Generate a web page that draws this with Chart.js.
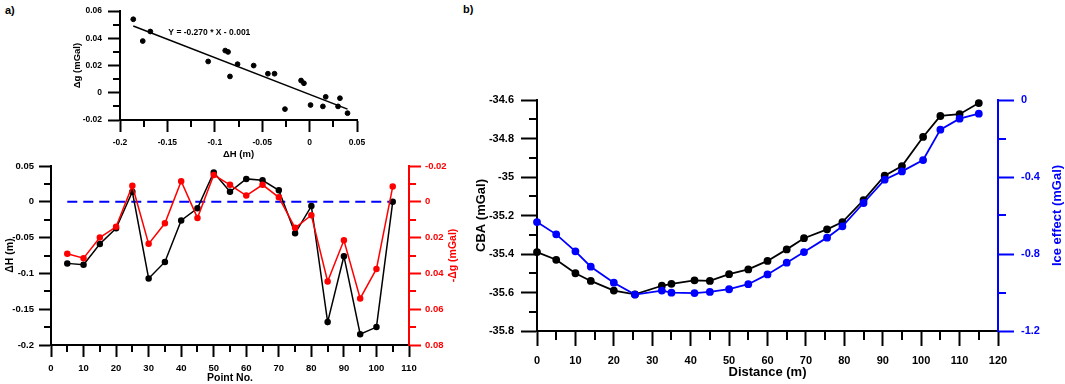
<!DOCTYPE html>
<html>
<head>
<meta charset="utf-8">
<script src="https://cdn.jsdelivr.net/npm/chart.js@4.4.1/dist/chart.umd.min.js"></script>
<style>
    body { margin: 0; background: #fff; width: 1065px; height: 384px; position: relative; overflow: hidden; font-family: 'Liberation Sans', Arial, sans-serif; }
    canvas { position: absolute; }
    .panel { position: absolute; font-weight: bold; font-size: 11px; color: #000; }
</style>
</head>
<body>
<div class="panel" style="left:5px; top:4px;">a)</div>
<div class="panel" style="left:463px; top:3px;">b)</div>
<canvas id="scatterChart" width="320" height="162" style="left:60px; top:0;"></canvas>
<canvas id="profileChart" width="470" height="234" style="left:0; top:150px;"></canvas>
<canvas id="iceChart" width="595" height="384" style="left:470px; top:0;"></canvas>
<script>
//################### Data ###################
// a) scatter: dH vs dg with fitted line
const scatterDH = [-0.186, -0.176, -0.168, -0.107, -0.089, -0.086, -0.084, -0.076, -0.059, -0.044,
                   -0.037, -0.026, -0.009, -0.006, 0.001, 0.014, 0.017, 0.030, 0.032, 0.040];
const scatterDG = [0.054, 0.038, 0.045, 0.023, 0.031, 0.030, 0.012, 0.021, 0.020, 0.014,
                   0.014, -0.012, 0.009, 0.007, -0.009, -0.010, -0.003, -0.010, -0.004, -0.015];
const fitX = [-0.186, 0.040];
const fitY = [0.049, -0.012];
const fitLabel = 'Y = -0.270 * X - 0.001';

// a) profile along point numbers
const pointNo = [5, 10, 15, 20, 25, 30, 35, 40, 45, 50, 55, 60, 65, 70, 75, 80, 85, 90, 95, 100, 105];
const deltaH = [-0.086, -0.088, -0.059, -0.037, 0.014, -0.107, -0.084, -0.026, -0.009, 0.041, 0.014,
                0.032, 0.030, 0.016, -0.044, -0.006, -0.168, -0.076, -0.185, -0.175, 0.000];
const negDeltaG = [0.029, 0.0315, 0.020, 0.014, -0.009, 0.0235, 0.012, -0.0115, 0.009, -0.015, -0.0095,
                   -0.0035, -0.0095, -0.0025, 0.0145, 0.0075, 0.0445, 0.0215, 0.054, 0.0375, -0.0085];
const zeroLineX = [5, 105];
const zeroLineY = [0, 0];

// b) CBA and ice effect along the profile
const distance = [0, 5, 10, 14, 20, 25.5, 32.5, 35, 41, 45, 50, 55, 60, 65, 69.5, 75.5, 79.5, 85,
                  90.5, 95, 100.5, 105, 110, 115];
const cba = [-35.39, -35.43, -35.50, -35.54, -35.59, -35.61, -35.565, -35.555, -35.537, -35.54, -35.505,
             -35.48, -35.436, -35.376, -35.318, -35.272, -35.234, -35.12, -34.993, -34.943, -34.792,
             -34.683, -34.674, -34.616];
const iceEffect = [-0.634, -0.698, -0.786, -0.866, -0.949, -1.011, -0.99, -1.001, -1.003, -0.997, -0.983,
                   -0.957, -0.906, -0.845, -0.79, -0.715, -0.656, -0.535, -0.414, -0.371, -0.312,
                   -0.154, -0.097, -0.071];

const RED = 'rgb(255, 0, 0)';
const BLUE = 'rgb(0, 0, 255)';
const FONT = "'Liberation Sans', Arial, sans-serif";

Chart.defaults.font.family = FONT;
Chart.defaults.font.weight = 'bold';
Chart.defaults.color = '#000';

const toXY = (xs, ys) => xs.map((x, i) => ({ x: x, y: ys[i] }));
const tickText = (v) => String(+(+v).toFixed(3));

//################### Minor ticks, right titles, notes ###################
function makeExtras(cfg) {
    return {
        id: 'extras',
        afterDraw(chart) {
            const ctx = chart.ctx;
            (cfg.minor || []).forEach(m => {
                const s = chart.scales[m.axis];
                const n = Math.round((s.max - s.min) / m.step);
                ctx.save();
                ctx.strokeStyle = m.color;
                ctx.lineWidth = m.width;
                ctx.beginPath();
                for (let i = 1; i < n; i += 2) {    // odd steps fall between major ticks
                    const v = s.min + i * m.step;
                    const p = Math.round(s.getPixelForValue(v));
                    if (s.position === 'left') { ctx.moveTo(s.right, p); ctx.lineTo(s.right - m.len, p); }
                    else if (s.position === 'right') { ctx.moveTo(s.left, p); ctx.lineTo(s.left + m.len, p); }
                    else { ctx.moveTo(p, s.top); ctx.lineTo(p, s.top + m.len); }
                }
                ctx.stroke();
                ctx.restore();
            });
            if (cfg.rightTitle) {
                const t = cfg.rightTitle;
                const s = chart.scales[t.axis];
                ctx.save();
                ctx.fillStyle = t.color;
                ctx.font = 'bold ' + t.size + 'px ' + FONT;
                ctx.translate(s.right - t.offset, (s.top + s.bottom) / 2);
                ctx.rotate(-Math.PI / 2);
                ctx.textAlign = 'center';
                ctx.textBaseline = 'middle';
                ctx.fillText(t.text, 0, 0);
                ctx.restore();
            }
            if (cfg.note) {
                const t = cfg.note;
                ctx.save();
                ctx.fillStyle = '#000';
                ctx.font = 'bold ' + t.size + 'px ' + FONT;
                ctx.textAlign = 'left';
                ctx.textBaseline = 'middle';
                ctx.fillText(t.text, chart.scales.x.getPixelForValue(t.x), chart.scales.y.getPixelForValue(t.y));
                ctx.restore();
            }
        }
    };
}

function axis(opts) {
    return {
        type: 'linear',
        position: opts.position,
        reverse: !!opts.reverse,
        min: opts.min,
        max: opts.max,
        afterFit: opts.fit,
        grid: { drawOnChartArea: false, tickLength: opts.tickLength, tickWidth: 2, tickColor: opts.color },
        border: { display: true, color: opts.color, width: 2 },
        ticks: {
            stepSize: opts.step,
            autoSkip: false,
            maxRotation: 0,
            padding: opts.pad,
            color: opts.color,
            font: { size: opts.fontSize, weight: 'bold' },
            callback: tickText
        },
        title: opts.title ? {
            display: true,
            text: opts.title,
            color: opts.color,
            font: { size: opts.titleSize, weight: 'bold' },
            padding: opts.titlePad
        } : { display: false }
    };
}

//################### a) scatter ###################
new Chart(document.getElementById('scatterChart').getContext('2d'), {
    type: 'scatter',
    data: {
        datasets: [{
            data: toXY(scatterDH, scatterDG),
            backgroundColor: '#000',
            borderColor: '#000',
            pointRadius: 2.4,
            clip: false
        }, {
            data: toXY(fitX, fitY),
            showLine: true,
            borderColor: '#000',
            borderWidth: 1.5,
            pointRadius: 0,
            clip: false
        }]
    },
    options: {
        responsive: false,
        animation: false,
        layout: { padding: { top: 5, right: 23, bottom: 0, left: 0 } },
        plugins: { legend: { display: false }, tooltip: { enabled: false } },
        scales: {
            x: axis({ position: 'bottom', min: -0.2, max: 0.05, step: 0.05, color: '#000', tickLength: 12, pad: 6,
                      fontSize: 8.5, title: 'ΔH (m)', titleSize: 9.5, titlePad: { top: 0, bottom: 2.3 },
                      fit: (s) => { s.height = 42; } }),
            y: axis({ position: 'left', min: -0.02, max: 0.06, step: 0.02, color: '#000', tickLength: 12, pad: 6,
                      fontSize: 8.5, title: 'Δg (mGal)', titleSize: 9.5, titlePad: { top: 11.3, bottom: 0 },
                      fit: (s) => { s.width = 60; } })
        }
    },
    plugins: [makeExtras({
        minor: [
            { axis: 'x', step: 0.025, len: 7, color: '#000', width: 2 },
            { axis: 'y', step: 0.01, len: 7, color: '#000', width: 2 }
        ],
        note: { text: fitLabel, x: -0.149, y: 0.044, size: 8.5 }
    })]
});

//################### a) profile ###################
new Chart(document.getElementById('profileChart').getContext('2d'), {
    type: 'scatter',
    data: {
        datasets: [{
            data: toXY(pointNo, negDeltaG),
            yAxisID: 'y2',
            showLine: true,
            borderColor: RED,
            backgroundColor: RED,
            borderWidth: 1.5,
            pointRadius: 2.5,
            clip: false
        }, {
            data: toXY(pointNo, deltaH),
            yAxisID: 'y',
            showLine: true,
            borderColor: '#000',
            backgroundColor: '#000',
            borderWidth: 1.5,
            pointRadius: 2.5,
            clip: false
        }, {
            data: toXY(zeroLineX, zeroLineY),
            yAxisID: 'y',
            showLine: true,
            borderColor: BLUE,
            borderWidth: 2,
            borderDash: [10, 6],
            pointRadius: 0,
            clip: false
        }]
    },
    options: {
        responsive: false,
        animation: false,
        layout: { padding: { top: 16, right: 0, bottom: 0, left: 0 } },
        plugins: { legend: { display: false }, tooltip: { enabled: false } },
        scales: {
            x: axis({ position: 'bottom', min: 0, max: 110, step: 10, color: '#000', tickLength: 12, pad: 6,
                      fontSize: 9.5, title: 'Point No.', titleSize: 10.5, titlePad: { top: 0, bottom: 0 },
                      fit: (s) => { s.height = 39; } }),
            y: axis({ position: 'left', min: -0.2, max: 0.05, step: 0.05, color: '#000', tickLength: 12, pad: 5,
                      fontSize: 9.5, title: 'ΔH (m)', titleSize: 10.5, titlePad: { top: 4, bottom: 0 },
                      fit: (s) => { s.width = 51; } }),
            y2: axis({ position: 'right', reverse: true, min: -0.02, max: 0.08, step: 0.02, color: RED,
                       tickLength: 12, pad: 4, fontSize: 9.5, fit: (s) => { s.width = 61; } })
        }
    },
    plugins: [makeExtras({
        minor: [
            { axis: 'x', step: 5, len: 7, color: '#000', width: 2 },
            { axis: 'y', step: 0.025, len: 7, color: '#000', width: 2 },
            { axis: 'y2', step: 0.01, len: 7, color: RED, width: 2 }
        ],
        rightTitle: { axis: 'y2', text: '-Δg (mGal)', color: RED, size: 10.5, offset: 17 }
    })]
});

//################### b) CBA and ice effect ###################
new Chart(document.getElementById('iceChart').getContext('2d'), {
    type: 'scatter',
    data: {
        datasets: [{
            data: toXY(distance, iceEffect),
            yAxisID: 'y2',
            showLine: true,
            borderColor: BLUE,
            backgroundColor: BLUE,
            borderWidth: 1.8,
            pointRadius: 3,
            clip: false
        }, {
            data: toXY(distance, cba),
            yAxisID: 'y',
            showLine: true,
            borderColor: '#000',
            backgroundColor: '#000',
            borderWidth: 1.8,
            pointRadius: 3,
            clip: false
        }]
    },
    options: {
        responsive: false,
        animation: false,
        layout: { padding: { top: 100, right: 0, bottom: 0, left: 0 } },
        plugins: { legend: { display: false }, tooltip: { enabled: false } },
        scales: {
            x: axis({ position: 'bottom', min: 0, max: 120, step: 10, color: '#000', tickLength: 15, pad: 8,
                      fontSize: 11, title: 'Distance (m)', titleSize: 13, titlePad: { top: 0, bottom: 3.5 },
                      fit: (s) => { s.height = 53; } }),
            y: axis({ position: 'left', min: -35.8, max: -34.6, step: 0.2, color: '#000', tickLength: 16, pad: 7,
                      fontSize: 11, title: 'CBA (mGal)', titleSize: 13, titlePad: { top: 4, bottom: 0 },
                      fit: (s) => { s.width = 67; } }),
            y2: axis({ position: 'right', min: -1.2, max: 0, step: 0.4, color: BLUE, tickLength: 16, pad: 7,
                       fontSize: 11, fit: (s) => { s.width = 67; } })
        }
    },
    plugins: [makeExtras({
        minor: [
            { axis: 'x', step: 5, len: 9, color: '#000', width: 2 },
            { axis: 'y', step: 0.1, len: 8, color: '#000', width: 2 },
            { axis: 'y2', step: 0.2, len: 8, color: BLUE, width: 2 }
        ],
        rightTitle: { axis: 'y2', text: 'Ice effect (mGal)', color: BLUE, size: 13, offset: 8 }
    })]
});
</script>
</body>
</html>
